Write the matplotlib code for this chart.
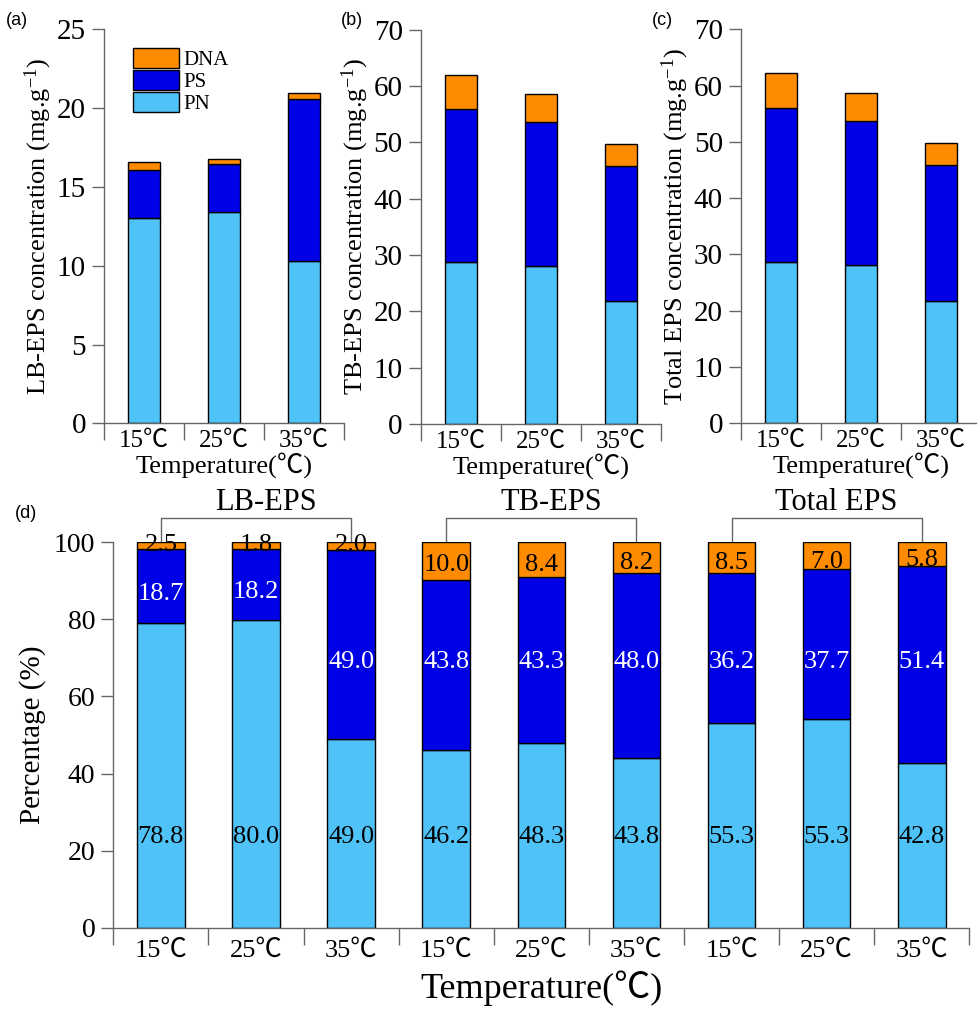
import matplotlib
matplotlib.use("Agg")
import matplotlib.pyplot as plt
import numpy as np

plt.rcParams['font.family'] = ['Liberation Serif', 'Noto Sans CJK SC']
plt.rcParams['mathtext.default'] = 'regular'

temps = ['15℃', '25℃', '35℃']
parts = ['PN', 'PS', 'DNA']

# (a) LB-EPS, mg/g
lb_pn = [13.0, 13.4, 10.3]
lb_ps = [3.1, 3.05, 10.3]
lb_dna = [0.45, 0.35, 0.35]

# (b) TB-EPS, mg/g
tb_pn = [28.7, 28.1, 21.8]
tb_ps = [27.3, 25.5, 24.0]
tb_dna = [6.0, 5.0, 4.0]

# (c) Total EPS, mg/g
tot_pn = [28.7, 28.2, 21.8]
tot_ps = [27.4, 25.5, 24.1]
tot_dna = [6.1, 5.0, 3.9]

# (d) percentages (bar heights as drawn)
groups = ['LB-EPS', 'TB-EPS', 'Total EPS']
pct_pn = [79.0, 79.8, 49.0, 46.1, 47.8, 44.0, 53.0, 54.1, 42.8]
pct_ps = [19.2, 18.4, 49.0, 44.1, 43.3, 48.0, 39.0, 38.9, 51.1]
pct_dna = [1.8, 1.8, 2.0, 9.8, 8.9, 8.0, 8.0, 7.0, 6.1]
# printed labels
lab_pn = ['78.8', '80.0', '49.0', '46.2', '48.3', '43.8', '55.3', '55.3', '42.8']
lab_ps = ['18.7', '18.2', '49.0', '43.8', '43.3', '48.0', '36.2', '37.7', '51.4']
lab_dna = ['2.5', '1.8', '2.0', '10.0', '8.4', '8.2', '8.5', '7.0', '5.8']

c_pn = '#4fc3f7'
c_ps = '#0000e6'
c_dna = '#ff8c00'
axis_col = '#666666'


def style_axes(ax, n, ymax, ystep, xfs, yfs, xpad):
    for s in ['top', 'right']:
        ax.spines[s].set_visible(False)
    for s in ['left', 'bottom']:
        ax.spines[s].set_color(axis_col)
        ax.spines[s].set_linewidth(1.0)
    ax.set_xlim(-0.5, n - 0.5)
    ax.set_ylim(0, ymax)
    ax.set_yticks(np.arange(0, ymax + 0.1, ystep))
    ax.set_xticks(np.arange(n + 1) - 0.5)
    ax.set_xticklabels([])
    ax.set_xticks(np.arange(n), minor=True)
    ax.tick_params(axis='x', which='major', direction='out', length=12,
                   color=axis_col, width=1.0)
    ax.tick_params(axis='x', which='minor', length=0, labelsize=xfs, pad=xpad)
    ax.tick_params(axis='y', direction='out', length=9, color=axis_col,
                   width=1.0, labelsize=yfs, pad=4)


def stacked(ax, pn, ps, dna, width):
    x = np.arange(len(pn))
    b1 = ax.bar(x, pn, width, color=c_pn, edgecolor='black', linewidth=1.0, label='PN')
    b2 = ax.bar(x, ps, width, bottom=pn, color=c_ps, edgecolor='black', linewidth=1.0, label='PS')
    b3 = ax.bar(x, dna, width, bottom=np.add(pn, ps), color=c_dna,
                edgecolor='black', linewidth=1.0, label='DNA')
    return b1, b2, b3


fig = plt.figure(figsize=(9.78, 10.14), dpi=100)

top_panels = [
    ([0.1063, 0.5825, 0.2454, 0.3886], lb_pn, lb_ps, lb_dna, 25, 5,
     'LB-EPS concentration (mg.g$^{-1}$)', '(a)', 0.006),
    ([0.4302, 0.5819, 0.2454, 0.3886], tb_pn, tb_ps, tb_dna, 70, 10,
     'TB-EPS concentration (mg.g$^{-1}$)', '(b)', 0.349),
    ([0.7577, 0.5825, 0.2454, 0.3886], tot_pn, tot_ps, tot_dna, 70, 10,
     'Total EPS concentration (mg.g$^{-1}$)', '(c)', 0.667),
]

for i, (rect, pn, ps, dna, ymax, ystep, ylab, tag, tagx) in enumerate(top_panels):
    ax = fig.add_axes(rect)
    bars = stacked(ax, pn, ps, dna, 0.4)
    style_axes(ax, 3, ymax, ystep, 18, 21, 5)
    ax.set_xticklabels(temps, minor=True)
    ax.set_ylabel(ylab, fontsize=19, labelpad=2)
    ax.set_xlabel('Temperature(℃)', fontsize=19, labelpad=0)
    fig.text(tagx, 0.980, tag, fontsize=13, family='Liberation Sans',
             ha='left', va='center')
    if i == 0:
        ax.legend(handles=[bars[2], bars[1], bars[0]], labels=['DNA', 'PS', 'PN'],
                  loc='upper left', bbox_to_anchor=(0.06, 0.99), frameon=False,
                  fontsize=15, handlelength=2.2, handleheight=1.1,
                  labelspacing=0.0, handletextpad=0.2, borderpad=0.2)

# (d)
axd = fig.add_axes([0.1159, 0.0851, 0.8753, 0.3801])
n = len(pct_pn)
stacked(axd, pct_pn, pct_ps, pct_dna, 0.5)
style_axes(axd, n, 100, 20, 19, 20, 9)
axd.set_xticklabels(temps * 3, minor=True)
axd.set_ylabel('Percentage (%)', fontsize=21, labelpad=6)
axd.set_xlabel('Temperature(℃)', fontsize=26, labelpad=6)
fig.text(0.015, 0.494, '(d)', fontsize=13, family='Liberation Sans',
         ha='left', va='center')

x = np.arange(n)
for k in range(n):
    top = pct_pn[k] + pct_ps[k]
    axd.text(x[k], 23.6, lab_pn[k], ha='center', va='center', fontsize=19,
             color='black')
    if pct_ps[k] > 30:
        ps_y = 69
    else:
        ps_y = pct_pn[k] + pct_ps[k] / 2 - 2
    axd.text(x[k], ps_y, lab_ps[k], ha='center', va='center', fontsize=19,
             color='white')
    dna_y = max(top + pct_dna[k] / 2 - 1.5, 94) if pct_dna[k] > 3 else 99.4
    axd.text(x[k], dna_y, lab_dna[k], ha='center', va='center', fontsize=19,
             color='black', clip_on=False)

# group brackets
for g, name in enumerate(groups):
    x0 = 3 * g
    x1 = 3 * g + 2
    axd.plot([x0, x0, x1, x1], [100, 106.2, 106.2, 100], color=axis_col,
             linewidth=1.0, clip_on=False, zorder=0)
    axd.text(3 * g + 1.1, 106.6, name, ha='center', va='bottom', fontsize=22,
             clip_on=False)

fig.savefig('out.png', dpi=100)
